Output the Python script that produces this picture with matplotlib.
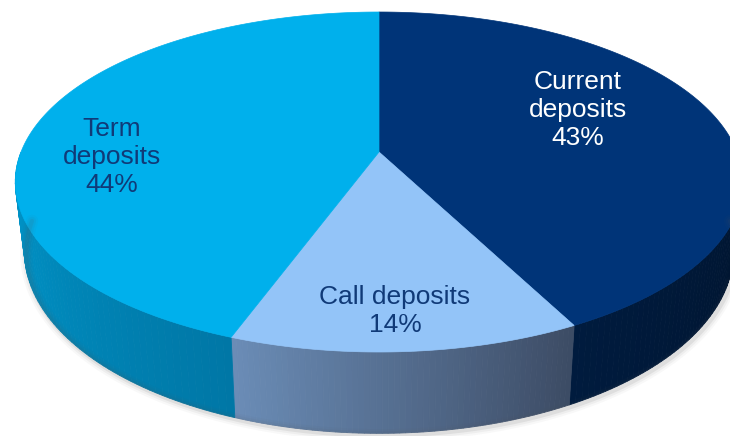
import numpy as np
import matplotlib.pyplot as plt
from matplotlib.patches import Polygon
from matplotlib.colors import to_rgb

plt.rcParams['font.family'] = ['Liberation Sans', 'DejaVu Sans']

# slices, clockwise from 12 o'clock
labels = ['Current\ndeposits', 'Call deposits', 'Term\ndeposits']
pct_labels = ['43%', '14%', '44%']
shares = [42.4, 13.2, 44.4]
top_colors = ['#003478', '#93C4F8', '#00B0EC']
side_colors = [('#001B3E', '#00132C'), ('#6B8DB7', '#3C4B64'), ('#009ACF', '#0077A6')]
text_colors = ['white', '#103A78', '#103A78']
label_xy = [(578, 110), (395, 311), (112, 157)]

# perspective geometry (pixel space)
cx, cy = 379, 152
a, b, k = 358, 164.7, 0.1765
depth, shrink = 67, 0.975


def proj(phi, r=1.0, bottom=False):
    s = 1.0 / (1.0 + k * r * np.sin(phi))
    f = shrink if bottom else 1.0
    x = cx + a * r * np.cos(phi) * s * f
    y = cy - b * r * np.sin(phi) * s + (depth * s if bottom else 0)
    return x, y


fig = plt.figure(figsize=(7.3, 4.36), dpi=100)
ax = fig.add_axes([0, 0, 1, 1])
ax.set_xlim(0, 730)
ax.set_ylim(436, 0)
ax.axis('off')

# angles of slice edges (radians), clockwise from top
edges = np.deg2rad(90 - np.concatenate([[0], np.cumsum(shares)]) / sum(shares) * 360)

# soft shadow under the front rim
ph = np.linspace(-np.pi, 0, 300)
sx, sy = proj(ph, bottom=True)
for w, al in [(9, 0.04), (6, 0.06), (3, 0.10)]:
    ax.plot(sx + 2, sy + 2, color='#555555', lw=w, alpha=al, solid_capstyle='round')

# side walls (only the front half is visible)
for i in range(len(shares)):
    p0, p1 = edges[i], edges[i + 1]
    hi, lo = min(p0, 0.0), max(p1, -np.pi)
    if hi <= lo:
        # term slice wraps past -180
        lo2 = max(p1 + 2 * np.pi, -np.pi)
        hi2 = min(p0 + 2 * np.pi, 0.0)
        if hi2 <= lo2:
            continue
        hi, lo = hi2, lo2
    c_left, c_right = np.array(to_rgb(side_colors[i][0])), np.array(to_rgb(side_colors[i][1]))
    n = 60
    ps = np.linspace(lo, hi, n + 1)  # lo = left side (more negative)
    for j in range(n):
        q = np.array([ps[j], ps[j + 1]])
        xt, yt = proj(q)
        xb, yb = proj(q, bottom=True)
        t = (j + 0.5) / n
        col = c_left * (1 - t) + c_right * t
        poly = np.column_stack([np.r_[xt, xb[::-1]], np.r_[yt, yb[::-1]]])
        ax.add_patch(Polygon(poly, closed=True, fc=col, ec=col, lw=0.6))

# top faces
for i in range(len(shares)):
    ps = np.linspace(edges[i], edges[i + 1], 200)
    xs, ys = proj(ps)
    poly = np.column_stack([np.r_[cx, xs], np.r_[cy, ys]])
    ax.add_patch(Polygon(poly, closed=True, fc=top_colors[i], ec=top_colors[i], lw=0.5))

# labels
for i in range(len(shares)):
    ax.text(label_xy[i][0], label_xy[i][1], f"{labels[i]}\n{pct_labels[i]}",
            ha='center', va='center', fontsize=19, color=text_colors[i], linespacing=1.2)

fig.savefig('out.png', dpi=100)
